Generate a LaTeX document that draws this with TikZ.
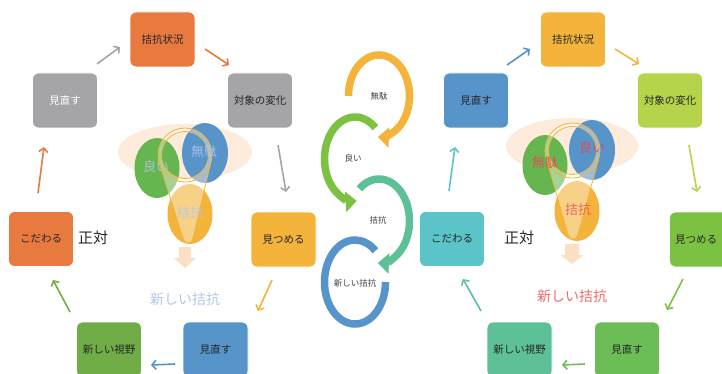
\documentclass[tikz,border=0pt]{standalone}
\usepackage{fontspec}
\setmainfont{Noto Sans CJK JP}
\usetikzlibrary{arrows.meta}
\definecolor{cOr}{HTML}{E8793F}
\definecolor{cGy}{HTML}{A5A5A8}
\definecolor{cYo}{HTML}{F4B33A}
\definecolor{cBl}{HTML}{5694C9}
\definecolor{cGn}{HTML}{70AD47}
\definecolor{cLg}{HTML}{B6D44B}
\definecolor{cGa}{HTML}{7DC142}
\definecolor{cGb}{HTML}{6BBE55}
\definecolor{cTg}{HTML}{5EC097}
\definecolor{cTl}{HTML}{5BC4C8}
\definecolor{cCg}{HTML}{66B650}
\definecolor{cPeach}{HTML}{FDEBDC}
\definecolor{cArr}{HTML}{FCDFC4}
\definecolor{cLbl}{HTML}{B4C7E7}
\definecolor{cRed}{HTML}{E8474C}
\definecolor{cNew}{HTML}{F26B6B}
\definecolor{cTxt}{HTML}{262626}
\definecolor{cSp}{HTML}{404040}
\begin{document}
\begin{tikzpicture}[x=1pt,y=-1pt,
  box/.style={rounded corners=6pt, minimum width=65pt, minimum height=55pt, draw=white, line width=0.8pt, inner sep=0pt, font=\fontsize{10.5}{12}\selectfont, text=cTxt},
  conn/.style={line width=1.6pt, -{Straight Barb[length=4pt,width=9pt]}},
  spir/.style={line width=7.5pt},
  sptip/.style={-{Triangle[width=20pt,length=11pt]}},
  clbl/.style={font=\fontsize{13}{15}\selectfont},
  bigl/.style={font=\fontsize{15}{18}\selectfont, text=cTxt},
  newl/.style={font=\fontsize{14}{16}\selectfont},
  slbl/.style={font=\fontsize{8.5}{10}\selectfont, text=cSp},
  pinline/.style={draw=cYo, line width=0.8pt},
  ringfill/.style={fill=white, fill opacity=0.4},
  downarr/.style={fill=cArr, draw=none}
]
\useasboundingbox (0,0) rectangle (722,374);
\clip (0,0) rectangle (722,374);

% ---------------- left cycle boxes ----------------
\node[box, fill=cOr] (L1) at (162.5,39.5) {拮抗状況};
\node[box, fill=cGy] (L2) at (260,100.5) {対象の変化};
\node[box, fill=cYo] (L3) at (283.5,239.5) {見つめる};
\node[box, fill=cBl] (L4) at (215.5,349.5) {見直す};
\node[box, fill=cGn] (L5) at (109,349.5) {新しい視野};
\node[box, fill=cOr] (L6) at (41,239) {こだわる};
\node[box, fill=cGy, text=white] (L7) at (65,100.5) {見直す};

% left arrows
\coordinate (a1s) at (97,64);   \coordinate (a1e) at (120,47);
\coordinate (a2s) at (205,49);  \coordinate (a2e) at (229,65);
\coordinate (a3s) at (278,145); \coordinate (a3e) at (286,192);
\coordinate (a4s) at (272,280); \coordinate (a4e) at (258,311);
\coordinate (a5s) at (175,364); \coordinate (a5e) at (151,365);
\coordinate (a6s) at (70,312);  \coordinate (a6e) at (53,280);
\coordinate (a7s) at (38,193);  \coordinate (a7e) at (44,147);
\draw[conn, cGy] (a1s) -- (a1e);
\draw[conn, cOr] (a2s) -- (a2e);
\draw[conn, cGy] (a3s) -- (a3e);
\draw[conn, cYo] (a4s) -- (a4e);
\draw[conn, cBl] (a5s) -- (a5e);
\draw[conn, cGn] (a6s) -- (a6e);
\draw[conn, cOr] (a7s) -- (a7e);

% left centre cluster
\fill[cPeach] (185,152) ellipse [x radius=67, y radius=28];
\fill[cCg] (157,168) ellipse [x radius=22.5, y radius=30];
\fill[cBl] (205,153) ellipse [x radius=23, y radius=30];
\fill[cYo] (190,214) ellipse [x radius=22.5, y radius=30];
% pin
\fill[ringfill] (159.4,163.5) -- (183,238) .. controls (185,245) and (191,245) .. (193,238) -- (210.6,163.5) arc[start angle=18.4, end angle=161.6, radius=27] -- cycle;
\fill[ringfill, even odd rule] (185,155) circle[radius=27] (185,155) circle[radius=23.5];
\draw[pinline] (185,155) circle[radius=27];
\draw[pinline] (185,155) circle[radius=23.5];
\draw[pinline] (159.4,163.5) -- (183,238) .. controls (185,245) and (191,245) .. (193,238) -- (210.6,163.5);
\node[clbl, text=cLbl, text opacity=0.85] (Lg) at (156,167) {良い};
\node[clbl, text=cLbl, text opacity=0.85] (Lm) at (204,152) {無駄};
\node[clbl, text=cLbl, text opacity=0.85] (Lk) at (190,213) {拮抗};
\fill[downarr] (179,247) -- (191,247) -- (191,258) -- (196,258) -- (185,268) -- (174,258) -- (179,258) -- cycle;
\node[newl, text=cLbl] (Ln) at (185,299) {新しい拮抗};
\node[bigl] (Ls) at (93,238) {正対};

% ---------------- middle spiral ----------------
\coordinate (s1) at (379,96);
\coordinate (s2) at (355,159);
\coordinate (s3) at (379,221);
\coordinate (s4) at (355,282);
\draw[spir, cBl] (s4) ++(0:30.5 and 42) arc[start angle=0, end angle=312, x radius=30.5, y radius=42];
\draw[spir, cTg, sptip] (s3) ++(-130:30.5 and 42) arc[start angle=-130, end angle=92, x radius=30.5, y radius=42];
\draw[spir, cGa, sptip] (s2) ++(-48:30.5 and 42) arc[start angle=-48, end angle=-273, x radius=30.5, y radius=42];
\draw[spir, cYo, sptip] (s1) ++(-180:30.5 and 41) arc[start angle=-180, end angle=92, x radius=30.5, y radius=41];
\node[slbl] (m1) at (379,96) {無駄};
\node[slbl] (m2) at (353,158) {良い};
\node[slbl] (m3) at (378,220) {拮抗};
\node[slbl] (m4) at (355,283) {新しい拮抗};

% ---------------- right cycle boxes ----------------
\node[box, fill=cYo] (R1) at (573,39.5) {拮抗状況};
\node[box, fill=cLg] (R2) at (670,100.5) {対象の変化};
\node[box, fill=cGa] (R3) at (702,239.5) {};
\node[font=\fontsize{10.5}{12}\selectfont, text=cTxt] (R3t) at (696,239.5) {見つめる};
\node[box, fill=cGb] (R4) at (627,349.5) {見直す};
\node[box, fill=cTg] (R5) at (519.5,349.5) {新しい視野};
\node[box, fill=cTl] (R6) at (452,239) {こだわる};
\node[box, fill=cBl] (R7) at (476,100.5) {見直す};

% right arrows
\coordinate (b1s) at (507,65);  \coordinate (b1e) at (530,49);
\coordinate (b2s) at (615,49);  \coordinate (b2e) at (639,64);
\coordinate (b3s) at (689,145); \coordinate (b3e) at (697,192);
\coordinate (b4s) at (683,279); \coordinate (b4e) at (667,310);
\coordinate (b5s) at (585,364); \coordinate (b5e) at (562,365);
\coordinate (b6s) at (481,311); \coordinate (b6e) at (463,279);
\coordinate (b7s) at (449,191); \coordinate (b7e) at (455,147);
\draw[conn, cBl] (b1s) -- (b1e);
\draw[conn, cYo] (b2s) -- (b2e);
\draw[conn, cLg] (b3s) -- (b3e);
\draw[conn, cGa] (b4s) -- (b4e);
\draw[conn, cGb] (b5s) -- (b5e);
\draw[conn, cTg] (b6s) -- (b6e);
\draw[conn, cTl] (b7s) -- (b7e);

% right centre cluster
\fill[cPeach] (572,146) ellipse [x radius=66, y radius=28];
\fill[cCg] (545,165) ellipse [x radius=22.5, y radius=30];
\fill[cBl] (592,150) ellipse [x radius=23, y radius=30];
\fill[cYo] (577,211) ellipse [x radius=22.5, y radius=30];
\fill[ringfill] (546.4,159.2) -- (568,234) .. controls (570,241) and (576,241) .. (578,234) -- (598.6,159.2) arc[start angle=18.4, end angle=161.6, radius=27.5] -- cycle;
\fill[ringfill, even odd rule] (572.5,150.5) circle[radius=27.5] (572.5,150.5) circle[radius=24];
\draw[pinline] (572.5,150.5) circle[radius=27.5];
\draw[pinline] (572.5,150.5) circle[radius=24];
\draw[pinline] (546.4,159.2) -- (568,234) .. controls (570,241) and (576,241) .. (578,234) -- (598.6,159.2);
\node[clbl, text=cRed, text opacity=0.85] (Rm) at (545,163) {無駄};
\node[clbl, text=cRed, text opacity=0.85] (Rg) at (592,148) {良い};
\node[clbl, text=cRed, text opacity=0.75] (Rk) at (578,210) {拮抗};
\fill[downarr] (565,244) -- (579,244) -- (579,255) -- (583.5,255) -- (572,264) -- (560.5,255) -- (565,255) -- cycle;
\node[newl, text=cNew] (Rn) at (572,296) {新しい拮抗};
\node[bigl] (Rs) at (519,238) {正対};
\end{tikzpicture}
\end{document}
